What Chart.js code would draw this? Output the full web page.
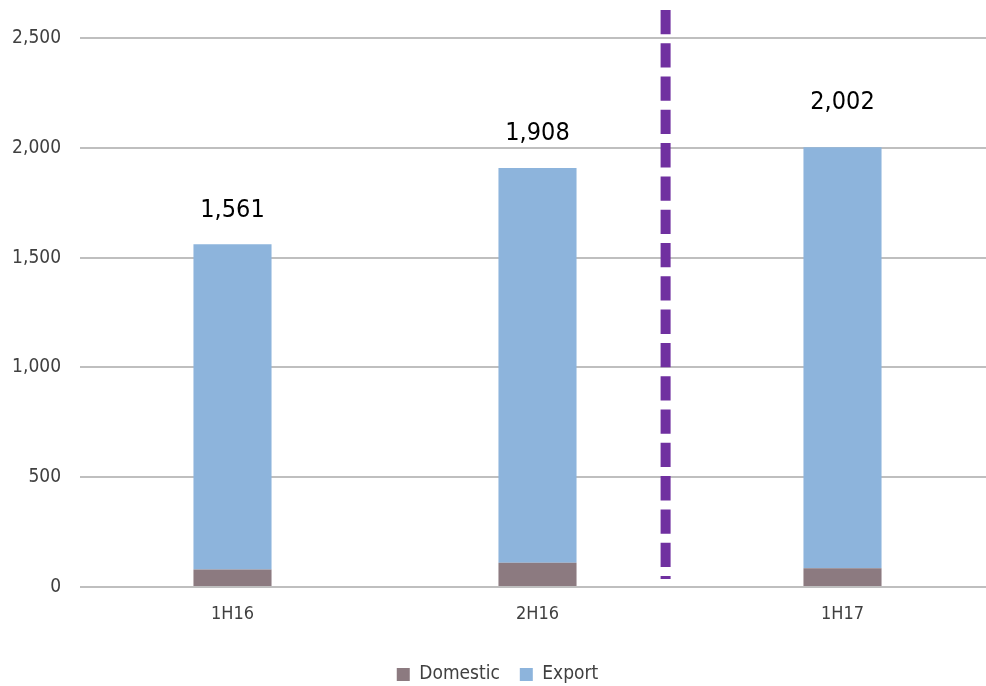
<!DOCTYPE html>
<html>

<head>
    <title>Domestic vs Export</title>
    <meta charset="UTF-8">
    <script src="https://cdn.jsdelivr.net/npm/chart.js"></script>
    <style>
        html, body {
            margin: 0;
            padding: 0;
            overflow: hidden;
            background: #ffffff;
        }
        /* slightly larger than the window: last category keeps its full slot,
           legend sits low with roomy spacing */
        #chartContainer {
            width: 995px;
            height: 694px;
        }
    </style>
</head>

<body>
    <div id="chartContainer">
        <canvas id="barChart"></canvas>
    </div>

    <script>
        var periods = ['1H16', '2H16', '1H17'];
        var totals = [1561, 1908, 2002];
        var domestic = [80, 110, 85];
        var exportVals = totals.map(function (t, i) { return t - domestic[i]; });
        var yTicks = [0, 500, 1000, 1500, 2000, 2500];

        var fontFamily = '"DejaVu Sans Condensed", "DejaVu Sans", sans-serif';

        // total above each stacked column
        var totalLabels = {
            id: 'totalLabels',
            afterDatasetsDraw: function (chart, args, opts) {
                var ctx = chart.ctx;
                var x = chart.scales.x, y = chart.scales.y;
                ctx.save();
                ctx.fillStyle = '#000000';
                ctx.font = '25px ' + fontFamily;
                ctx.textAlign = 'center';
                ctx.textBaseline = 'middle';
                totals.forEach(function (t, i) {
                    ctx.fillText(t.toLocaleString('en-US'), x.getPixelForValue(i), y.getPixelForValue(t) - opts.lift[i]);
                });
                ctx.restore();
            }
        };

        // purple dashed divider between 2H16 and 1H17
        var divider = {
            id: 'divider',
            afterDatasetsDraw: function (chart, args, opts) {
                var ctx = chart.ctx;
                var x = chart.scales.x.getPixelForValue(opts.at);
                ctx.save();
                ctx.strokeStyle = '#7030a0';
                ctx.lineWidth = 10;
                ctx.setLineDash([24.3, 9]);
                ctx.beginPath();
                ctx.moveTo(x, chart.scales.y.getPixelForValue(opts.from));
                ctx.lineTo(x, chart.scales.y.getPixelForValue(opts.to));
                ctx.stroke();
                ctx.restore();
            }
        };

        var ctx = document.getElementById('barChart').getContext('2d');
        var chart = new Chart(ctx, {
            type: 'bar',
            data: {
                labels: periods,
                datasets: [{
                    label: 'Domestic',
                    data: domestic,
                    backgroundColor: '#8c7a80'
                }, {
                    label: 'Export',
                    data: exportVals,
                    backgroundColor: '#8db4dc'
                }]
            },
            plugins: [totalLabels, divider],
            options: {
                responsive: true,
                maintainAspectRatio: false,
                animation: false,
                datasets: {
                    bar: {
                        barPercentage: 0.256,
                        categoryPercentage: 1
                    }
                },
                layout: {
                    padding: { top: 38, left: 0, right: 0, bottom: 0 }
                },
                scales: {
                    x: {
                        stacked: true,
                        grid: { display: false, drawTicks: false },
                        border: { display: false },
                        ticks: {
                            color: '#404040',
                            font: { family: fontFamily, size: 18 },
                            padding: 17
                        },
                        afterFit: function (scale) { scale.height = 58; }
                    },
                    y: {
                        stacked: true,
                        min: 0,
                        max: 2500,
                        afterBuildTicks: function (scale) {
                            scale.ticks = yTicks.map(function (v) { return { value: v }; });
                        },
                        grid: {
                            color: '#bfbfbf',
                            lineWidth: 2,
                            drawTicks: false
                        },
                        border: { display: false },
                        ticks: {
                            color: '#404040',
                            font: { family: fontFamily, size: 19 },
                            padding: 19,
                            callback: function (value) {
                                return value.toLocaleString('en-US');
                            }
                        },
                        afterFit: function (scale) { scale.width = 80; }
                    }
                },
                plugins: {
                    legend: {
                        position: 'bottom',
                        labels: {
                            color: '#404040',
                            font: { family: fontFamily, size: 19 },
                            boxWidth: 13,
                            boxHeight: 13,
                            padding: 20
                        }
                    },
                    tooltip: { enabled: false },
                    totalLabels: { lift: [34, 35, 45] },
                    divider: { at: 1.42, from: 2628, to: 36 }
                }
            }
        });
    </script>
</body>

</html>
